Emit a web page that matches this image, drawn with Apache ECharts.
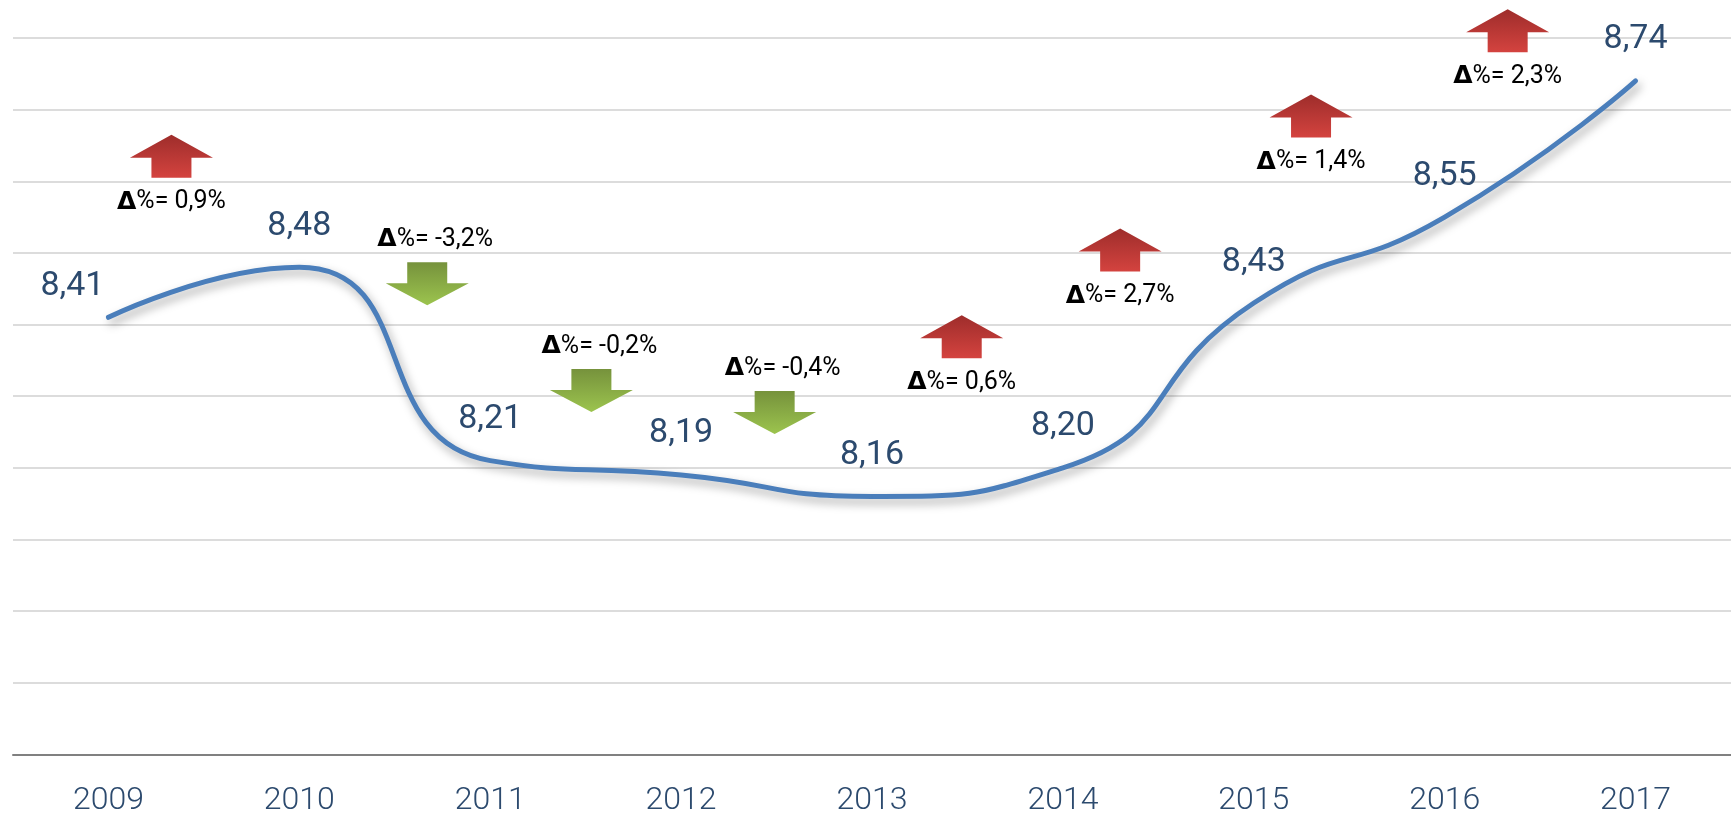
<!DOCTYPE html>
<html>
<head>
<meta charset="utf-8">
<script src="https://cdn.jsdelivr.net/npm/echarts@6/dist/echarts.min.js"></script>
<style>
  html, body { margin: 0; padding: 0; background: #fff; }
  #chart { width: 1731px; height: 819px; }
</style>
</head>
<body>
<div id="chart"></div>
<script>
// anni e valori della serie
const years = ['2009', '2010', '2011', '2012', '2013', '2014', '2015', '2016', '2017'];
const values = [8.41, 8.48, 8.21, 8.19, 8.16, 8.20, 8.43, 8.55, 8.74];

// variazioni percentuali tra un anno e l'altro (frecce)
const deltaPct = [0.9, -3.2, -0.2, -0.4, 0.6, 2.7, 1.4, 2.3];
// dove stanno le frecce: indice di categoria (frazionario) e valore sull'asse y
const arrowX = [0.33, 1.67, 2.53, 3.49, 4.47, 5.30, 6.30, 7.33];
const arrowY = [8.635, 8.457, 8.308, 8.277, 8.383, 8.504, 8.691, 8.81];

// asse y: 7,8 .. 8,8 passo 0,1 (solo griglia)
const yMin = 7.8, yMax = 8.8, yStep = 0.1;

const navy = '#2c4a6e';
const UP = 'path://M41.5,0 L83,23 L61.5,23 L61.5,43 L21.5,43 L21.5,23 L0,23 Z';
const DOWN = 'path://M21.5,0 L61.5,0 L61.5,21 L83,21 L41.5,43 L0,21 L21.5,21 Z';

const red = new echarts.graphic.LinearGradient(0, 0, 0, 1, [
  { offset: 0, color: '#9e2d2b' },
  { offset: 1, color: '#d4433f' }
]);
const green = new echarts.graphic.LinearGradient(0, 0, 0, 1, [
  { offset: 0, color: '#76923c' },
  { offset: 1, color: '#9cc44e' }
]);

function comma (v, d) {
  return v.toFixed(d).replace('.', ',');
}

const arrowData = deltaPct.map(function (d, i) {
  const up = d > 0;
  return {
    value: [arrowX[i], arrowY[i]],
    symbol: up ? UP : DOWN,
    itemStyle: { color: up ? red : green, opacity: 1 },
    label: {
      position: up ? 'bottom' : 'top',
      distance: up ? 12 : 10,
      offset: up ? [0, 0] : [8, 0]
    }
  };
});

const lineData = values.map(function (v, i) {
  // la prima etichetta sta a sinistra del punto
  return i === 0 ? { value: v, label: { offset: [-36, 10] } } : v;
});

const myChart = echarts.init(document.getElementById('chart'));
myChart.setOption({
  animation: false,
  grid: { left: 13, right: -6, top: 38, bottom: 64.7 },
  xAxis: [
    {
      type: 'category',
      data: years,
      boundaryGap: true,
      axisTick: { show: false },
      axisLine: { lineStyle: { color: '#808080', width: 2 } },
      axisLabel: {
        color: navy,
        fontFamily: 'Roboto',
        fontWeight: 300,
        fontSize: 32,
        margin: 31
      },
      splitLine: { show: false }
    },
    {
      type: 'value',
      min: -0.5,
      max: 8.5,
      show: false
    }
  ],
  yAxis: {
    type: 'value',
    min: yMin,
    max: yMax,
    interval: yStep,
    axisLabel: { show: false },
    axisLine: { show: false },
    axisTick: { show: false },
    splitLine: { lineStyle: { color: '#dcdcdc', width: 2 } }
  },
  series: [
    {
      type: 'line',
      xAxisIndex: 0,
      data: lineData,
      smooth: 0.55,
      symbol: 'circle',
      symbolSize: 2,
      itemStyle: { color: '#4a7ebb' },
      lineStyle: {
        color: '#4a7ebb',
        width: 5,
        cap: 'round',
        shadowColor: 'rgba(0,0,0,0.35)',
        shadowBlur: 10,
        shadowOffsetX: 3,
        shadowOffsetY: 5
      },
      label: {
        show: true,
        position: 'top',
        distance: 23,
        color: navy,
        fontFamily: 'Roboto',
        fontSize: 34,
        formatter: function (p) { return comma(p.value, 2); }
      },
      z: 3
    },
    {
      type: 'scatter',
      xAxisIndex: 1,
      data: arrowData,
      symbolSize: [83, 43],
      clip: false,
      label: {
        show: true,
        color: '#000',
        fontFamily: 'Roboto',
        fontSize: 25,
        formatter: function (p) {
          return '{b|Δ}%= ' + comma(deltaPct[p.dataIndex], 1) + '%';
        },
        rich: {
          b: { fontWeight: 'bold', fontSize: 25, fontFamily: 'DejaVu Sans', color: '#000' }
        }
      },
      z: 4
    }
  ]
});
</script>
</body>
</html>
